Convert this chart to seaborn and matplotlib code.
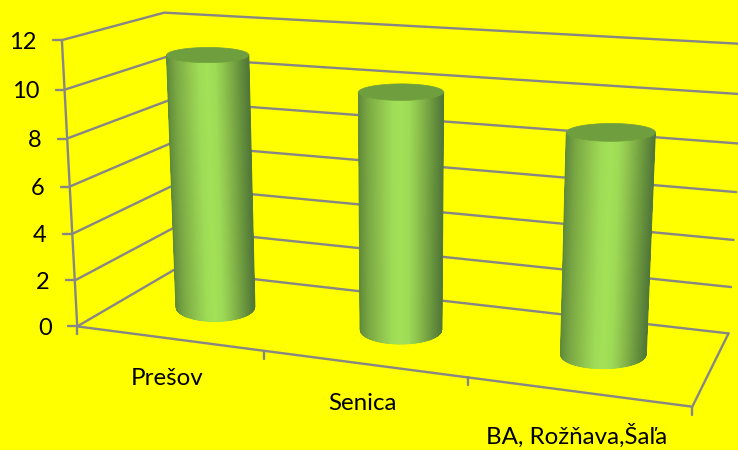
import numpy as np
import pandas as pd
import matplotlib
matplotlib.use('Agg')
import matplotlib.pyplot as plt
from matplotlib.collections import PolyCollection
import seaborn as sns

# data
categories = ['Prešov', 'Senica', 'BA, Rožňava,Šaľa']
values = [11, 10, 9]
y_ticks = [0, 2, 4, 6, 8, 10, 12]

GRID = '#868686'
BG = '#ffff00'
CAP = '#6f9e3e'

sns.set_theme(style='white', rc={'figure.facecolor': BG, 'axes.facecolor': BG})
plt.rcParams['font.family'] = ['Lato', 'DejaVu Sans']

# side shading of the cylinder, left to right
shade = sns.blend_palette(['#5f8a39', '#78a543', '#86b849', '#93cb50', '#9fdc56', '#a3e158',
                           '#9edb56', '#8fc54e', '#7cab45', '#66923c', '#527838'], as_cmap=True)

# camera: (category, value, depth) -> pixel, fitted on the frame of the chart
world = [(0, 0, 0), (1, 0, 0), (2, 0, 0), (3, 0, 0), (0, 12, 0), (0, 6, 0),
         (0, 0, 1), (0, 12, 1), (3, 0, 1), (3, 12, 1), (3, 2, 1)]
screen = [(78, 326), (264, 351), (468, 379), (692, 406), (61, 40), (70, 186),
          (173, 270), (165, 13), (728, 333), (744, 44), (732, 287)]


def fit_camera(world, screen):
    rows = []
    for (x, y, z), (u, v) in zip(world, screen):
        rows.append([x, y, z, 1, 0, 0, 0, 0, -u * x, -u * y, -u * z, -u])
        rows.append([0, 0, 0, 0, x, y, z, 1, -v * x, -v * y, -v * z, -v])
    return np.linalg.svd(np.array(rows))[2][-1].reshape(3, 4)


P = fit_camera(world, screen)


def project(x, y, z):
    x, y, z = np.broadcast_arrays(x, y, z)
    pts = P @ np.vstack([x.ravel(), y.ravel(), z.ravel(), np.ones(x.size)])
    return pts[0] / pts[2], pts[1] / pts[2]


fig = plt.figure(figsize=(7.38, 4.5), dpi=100)
ax = fig.add_axes([0, 0, 1, 1])

# frame lines
lines = []
n = len(categories)


def add_line(xs, ys, zs):
    u, v = project(np.array(xs, float), np.array(ys, float), np.array(zs, float))
    lines.append(pd.DataFrame({'u': u, 'v': v, 'line': len(lines)}))


for t in y_ticks:
    add_line([0, 0, n], [t, t, t], [0, 1, 1])
add_line([0, 0], [0, 12], [0, 0])
add_line([0, n, n], [0, 0, 0], [0, 0, 1])
frame = pd.concat(lines)
sns.lineplot(data=frame, x='u', y='v', units='line', estimator=None, sort=False,
             color=GRID, lw=1.7, ax=ax, legend=False, zorder=1)
ax.set_xlim(0, 738)
ax.set_ylim(450, 0)
ax.axis('off')

# tick stubs and labels
for t in y_ticks:
    u, v = project(0, t, 0)
    ax.plot([u[0] - 9, u[0]], [v[0], v[0]], color=GRID, lw=1.7, zorder=1)
    ax.text(u[0] - 25.5, v[0] + 2, str(t), ha='right', va='center', fontsize=17, color='black')
for i in range(n + 1):
    u, v = project(i, 0, 0)
    ax.plot([u[0], u[0]], [v[0], v[0] + 8], color=GRID, lw=1.7, zorder=1)
label_dy = [40, 40, 44]
for i, name in enumerate(categories):
    u, v = project(i + 0.5, 0, 0)
    ax.text(u[0] - 1, v[0] + label_dy[i], name, ha='center', va='center', fontsize=17.4, color='black')

# cylinders: level ellipses on the floor, half width / half height in pixels
half_w = [39.5, 41, 43]
half_h = 14
ang = np.linspace(0, 2 * np.pi, 481)
for i, val in enumerate(values):
    # local floor axes around the base centre, to keep the ellipse level on screen
    u0, v0 = project(i + 0.5, 0, 0.5)
    ux, vx = project(i + 0.6, 0, 0.5)
    uz, vz = project(i + 0.5, 0, 0.6)
    J = np.array([[ux[0] - u0[0], uz[0] - u0[0]], [vx[0] - v0[0], vz[0] - v0[0]]]) / 0.1
    d = np.linalg.solve(J, np.vstack([half_w[i] * np.cos(ang), half_h * np.sin(ang)]))
    cx = i + 0.5 + d[0]
    cz = 0.5 + d[1]
    bu, bv = project(cx, 0 * ang, cz)
    tu, tv = project(cx, val + 0 * ang, cz)
    # only the half of the side that faces us (angle 0 to pi runs along the front)
    front = np.arange(241)
    quads, fracs = [], []
    lo, hi = bu.min(), bu.max()
    for k in front[:-1]:
        q = np.array([[bu[k], bv[k]], [bu[k + 1], bv[k + 1]], [tu[k + 1], tv[k + 1]], [tu[k], tv[k]]])
        quads.append(q)
        fracs.append((q[:2, 0].mean() - lo) / (hi - lo))
    order = np.argsort(fracs)
    cols = shade(np.clip(np.array(fracs)[order], 0, 1))
    side = PolyCollection([quads[j] for j in order], facecolors=cols, edgecolors=cols, lw=0.5, zorder=3)
    ax.add_collection(side)
    # clean outer edge: clip to the outline, then redraw both long edges smooth
    sil = np.vstack([np.column_stack([bu[front], bv[front]]),
                     np.column_stack([tu[front][::-1], tv[front][::-1]])])
    clip = plt.Polygon(sil, closed=True, transform=ax.transData)
    side.set_clip_path(clip)
    ax.plot([bu[240], tu[240]], [bv[240], tv[240]], color=shade(0.0), lw=0.8, zorder=3.5)
    ax.plot([bu[0], tu[0]], [bv[0], tv[0]], color=shade(1.0), lw=0.8, zorder=3.5)
    ax.fill(tu, tv, color=CAP, lw=0.5, zorder=4)

fig.savefig('out.png', dpi=100, facecolor=BG)
